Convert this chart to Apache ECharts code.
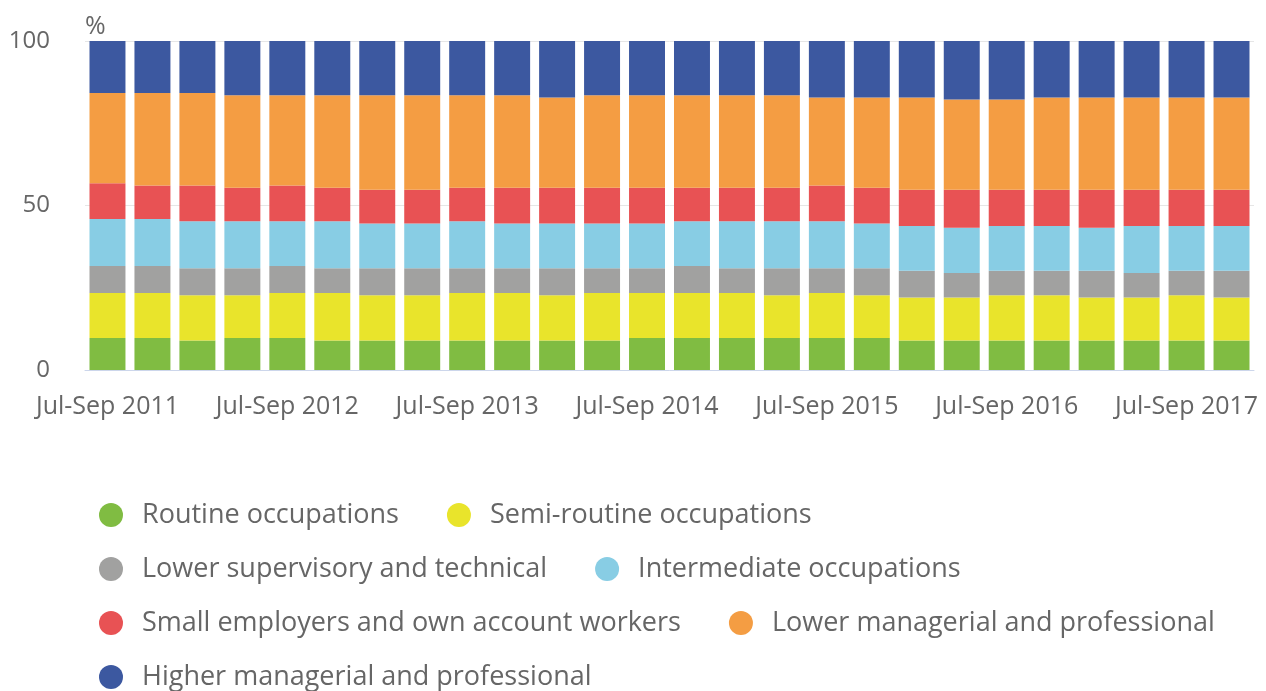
<!DOCTYPE html>
<html>
<head>
<meta charset="utf-8">
<script src="https://cdn.jsdelivr.net/npm/echarts@6/dist/echarts.min.js"></script>
<style>
html, body { margin: 0; padding: 0; background: #fff; }
#chart-box { width: 1266px; height: 691px; }
</style>
</head>
<body>
<div id="chart-box"></div>
<script>
// quarters, Jul-Sep 2011 .. Oct-Dec 2017
var quarters = [];
var qNames = ['Jan-Mar', 'Apr-Jun', 'Jul-Sep', 'Oct-Dec'];
for (var y = 2011; y <= 2017; y++) {
    for (var q = 0; q < 4; q++) {
        if (y === 2011 && q < 2) continue;
        quarters.push(qNames[q] + ' ' + y);
    }
}

var seriesNames = [
    'Routine occupations',
    'Semi-routine occupations',
    'Lower supervisory and technical',
    'Intermediate occupations',
    'Small employers and own account workers',
    'Lower managerial and professional',
    'Higher managerial and professional'
];

var routine = [9.7, 9.7, 9.0, 9.7, 9.7, 9.0, 9.0, 9.0, 9.0, 9.0, 9.0, 9.0, 9.7, 9.7, 9.7, 9.7, 9.7, 9.7, 9.0, 9.0, 9.0, 9.0, 9.0, 9.0, 9.0, 9.0];
var semiRoutine = [13.7, 13.7, 13.7, 13.0, 13.7, 14.4, 13.7, 13.7, 14.4, 14.4, 13.7, 14.4, 13.7, 13.7, 13.7, 13.0, 13.7, 13.0, 13.0, 13.0, 13.7, 13.7, 13.0, 13.0, 13.7, 13.0];
var lowerSupervisory = [8.2, 8.2, 8.2, 8.2, 8.2, 7.5, 8.2, 8.2, 7.5, 7.5, 8.2, 7.5, 7.5, 8.2, 7.5, 8.2, 7.5, 8.2, 8.2, 7.5, 7.5, 7.5, 8.2, 7.5, 7.5, 8.2];
var intermediate = [14.3, 14.3, 14.3, 14.3, 13.6, 14.3, 13.6, 13.6, 14.3, 13.6, 13.6, 13.6, 13.6, 13.6, 14.3, 14.3, 14.3, 13.6, 13.6, 13.7, 13.6, 13.6, 13.0, 14.3, 13.6, 13.6];
var smallEmployers = [10.9, 10.2, 10.9, 10.2, 10.9, 10.2, 10.3, 10.3, 10.2, 10.9, 10.9, 10.9, 10.9, 10.2, 10.2, 10.2, 10.9, 10.9, 11.0, 11.6, 11.0, 11.0, 11.6, 11.0, 11.0, 11.0];
var lowerManagerial = [27.4, 28.1, 28.1, 28.1, 27.4, 28.1, 28.7, 28.7, 28.1, 28.1, 27.4, 28.1, 28.1, 28.1, 28.1, 28.1, 26.7, 27.4, 28.0, 27.4, 27.4, 28.0, 28.0, 28.0, 28.0, 28.0];
var higherManagerial = [15.8, 15.8, 15.8, 16.5, 16.5, 16.5, 16.5, 16.5, 16.5, 16.5, 17.2, 16.5, 16.5, 16.5, 16.5, 16.5, 17.2, 17.2, 17.2, 17.8, 17.8, 17.2, 17.2, 17.2, 17.2, 17.2];

var yTicks = [0, 50, 100];

var allData = [routine, semiRoutine, lowerSupervisory, intermediate, smallEmployers, lowerManagerial, higherManagerial];
var colors = ['#80bc42', '#e9e42b', '#a1a1a0', '#88cde4', '#e85254', '#f49d43', '#3c58a0'];

var textColor = '#666666';
var fontFam = '"Open Sans", "Noto Sans", sans-serif';

var option = {
    animation: false,
    color: colors,
    grid: {
        left: 85,
        right: 12,
        top: 41,
        bottom: 321
    },
    legend: {
        left: 99,
        top: 495,
        width: 1190,
        padding: 0,
        itemGap: 14,
        itemWidth: 24,
        itemHeight: 24,
        icon: 'circle',
        textStyle: {
            color: textColor,
            fontSize: 27,
            fontFamily: fontFam,
            lineHeight: 40,
            padding: [0, 34, 0, 14]
        },
        data: seriesNames
    },
    xAxis: {
        type: 'category',
        data: quarters,
        axisLine: {
            lineStyle: { color: '#ccd6eb', width: 1 }
        },
        axisTick: {
            interval: 3,
            alignWithLabel: true,
            length: 20,
            lineStyle: { color: '#ccd6eb', width: 1 }
        },
        axisLabel: {
            interval: 3,
            margin: 24,
            color: textColor,
            fontSize: 25,
            fontFamily: fontFam
        }
    },
    yAxis: {
        type: 'value',
        min: yTicks[0],
        max: yTicks[yTicks.length - 1],
        interval: 50,
        name: '%',
        nameLocation: 'end',
        nameGap: 2,
        nameTextStyle: {
            color: textColor,
            fontSize: 25,
            fontFamily: fontFam,
            align: 'left',
            verticalAlign: 'bottom'
        },
        axisLine: { show: false },
        axisTick: { show: false },
        splitLine: {
            lineStyle: { color: '#e6e6e6', width: 1 }
        },
        axisLabel: {
            margin: 35,
            color: textColor,
            fontSize: 24,
            fontFamily: fontFam
        }
    },
    series: seriesNames.map(function (name, i) {
        return {
            name: name,
            type: 'bar',
            stack: 'total',
            barCategoryGap: '20%',
            data: allData[i]
        };
    })
};

var myChart = echarts.init(document.getElementById('chart-box'));
myChart.setOption(option);
</script>
</body>
</html>
